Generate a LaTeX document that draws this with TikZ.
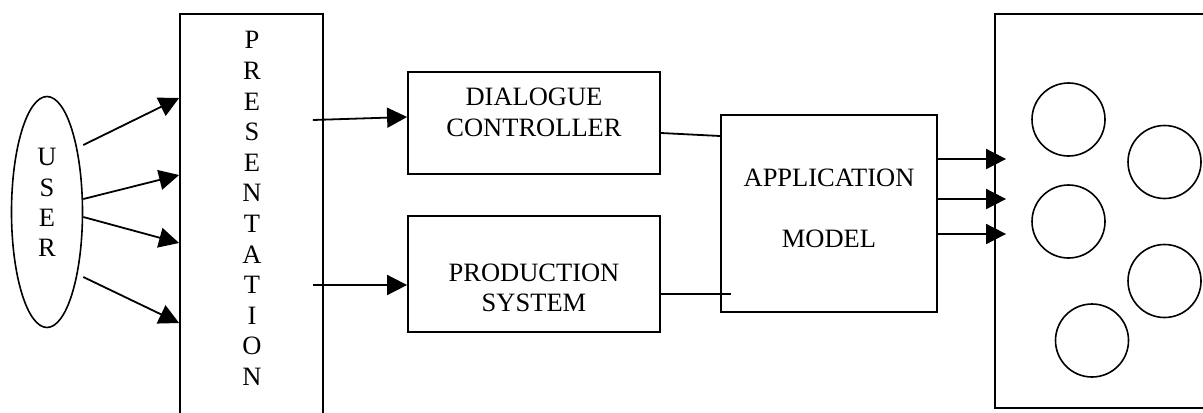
\documentclass[tikz,border=0pt]{standalone}
\usepackage{fontspec}
\setmainfont{Liberation Serif}
\usetikzlibrary{arrows.meta,shapes.geometric}
\begin{document}
\begin{tikzpicture}[x=0.5pt,y=-0.5pt,
  line width=0.9pt,
  box/.style={draw, rectangle, inner sep=0pt},
  lbl/.style={font=\fontsize{13.25pt}{15.4pt}\selectfont, align=center, inner sep=0pt},
  arr/.style={-{Triangle[length=10pt,width=10pt]}},
  ln/.style={-},
  dot/.style={draw, circle, minimum size=36.5pt, inner sep=0pt, line width=0.8pt}]
\useasboundingbox (0,0) rectangle (1203,412);
\clip (0,0) rectangle (1203,412);

% USER
\node[draw, ellipse, minimum width=35.5pt, minimum height=115.5pt, inner sep=0pt, line width=0.8pt] (user) at (47,212) {};
\node[lbl, font=\fontsize{13.25pt}{15.15pt}\selectfont] (usertext) at (47,202.5) {U\\S\\E\\R};

% PRESENTATION
\node[box, minimum width=71.5pt, minimum height=208pt] (pres) at (251.5,222) {};
\node[lbl, font=\fontsize{13.25pt}{15.3pt}\selectfont] (prestext) at (252,208.5) {P\\R\\E\\S\\E\\N\\T\\A\\T\\I\\O\\N};

% DIALOGUE CONTROLLER
\node[box, minimum width=126pt, minimum height=51pt] (dc) at (534,123) {};
\node[lbl] (dctext) at (534,112.5) {DIALOGUE\\CONTROLLER};

% PRODUCTION SYSTEM
\node[box, minimum width=126pt, minimum height=58pt] (ps) at (534,274) {};
\node[lbl, font=\fontsize{13.25pt}{15pt}\selectfont] (pstext) at (534,288) {PRODUCTION\\SYSTEM};

% APPLICATION MODEL
\node[box, minimum width=108pt, minimum height=98.5pt] (app) at (829,213.5) {};
\node[lbl, font=\fontsize{13.25pt}{30.5pt}\selectfont] (apptext) at (829,208.5) {APPLICATION\\MODEL};

% Right container
\node[box, minimum width=106.5pt, minimum height=197pt] (world) at (1101.5,211) {};
\node[dot] (c1) at (1068.5,119.5) {};
\node[dot] (c2) at (1164.5,162) {};
\node[dot] (c3) at (1068.5,221.5) {};
\node[dot] (c4) at (1164.5,281) {};
\node[dot] (c5) at (1092,340.5) {};

% user -> presentation
\draw[arr] ([yshift=33.5pt]user.east) -- ([yshift=62pt]pres.west);
\draw[arr] ([yshift=6.5pt]user.east) -- ([yshift=23.5pt]pres.west);
\draw[arr] ([yshift=-2.5pt]user.east) -- ([yshift=-10.5pt]pres.west);
\draw[arr] ([yshift=-32.5pt]user.east) -- ([yshift=-50.5pt]pres.west);

% presentation -> dc / ps
\draw[arr] ([xshift=-5.5pt,yshift=51pt]pres.east) -- ([yshift=3pt]dc.west);
\draw[arr] ([xshift=-5.5pt,yshift=-31.5pt]pres.east) -- ([yshift=-5.5pt]ps.west);

% dc / ps -> application
\draw[ln] ([yshift=-5pt]dc.east) -- ([yshift=38.75pt]app.west);
\draw[ln] ([yshift=-10pt]ps.east) -- ([xshift=5.5pt,yshift=-40.25pt]app.west);

% application -> world
\draw[arr] ([yshift=27.25pt]app.east) -- ([xshift=6pt,yshift=26pt]world.west);
\draw[arr] ([yshift=7.25pt]app.east) -- ([xshift=6pt,yshift=6pt]world.west);
\draw[arr] ([yshift=-10.25pt]app.east) -- ([xshift=6pt,yshift=-11.5pt]world.west);
\end{tikzpicture}
\end{document}
